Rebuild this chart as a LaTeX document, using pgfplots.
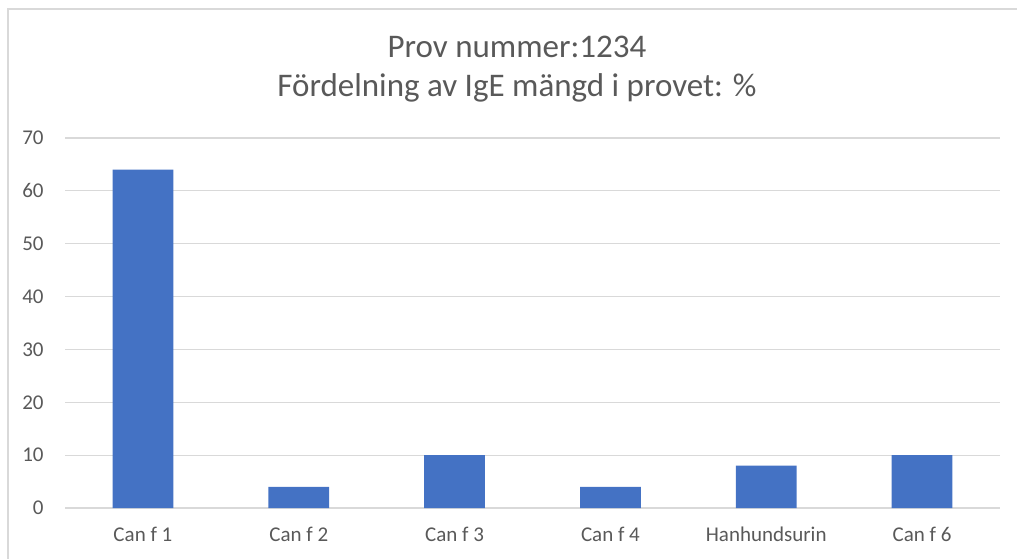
\documentclass[border=0pt]{standalone}
\usepackage{fontspec}
\setmainfont{Carlito}
\usepackage{pgfplots}
\pgfplotsset{compat=1.18}
\definecolor{barblue}{HTML}{4472C4}
\definecolor{gridgray}{HTML}{D9D9D9}
\definecolor{txtgray}{HTML}{595959}
\definecolor{framegray}{HTML}{D9D9D9}
\begin{document}
\begin{tikzpicture}
\path[use as bounding box] (0pt,0pt) rectangle (508.5pt,279pt);
\draw[framegray, line width=1pt] (4pt,-10pt) -- (4pt,274.5pt) -- (520pt,274.5pt);
\node[txtgray, font=\fontsize{16.5pt}{20pt}\selectfont] at (258.5pt,255.5pt) {Prov nummer:1234};
\node[txtgray, font=\fontsize{16.5pt}{20pt}\selectfont] at (258.5pt,235pt) {Fördelning av IgE mängd i provet: \%};
\begin{axis}[
  at={(32.5pt,25pt)}, anchor=south west,
  scale only axis, width=467.5pt, height=185pt,
  xmin=-0.5, xmax=5.5, ymin=0, ymax=70,
  ytick={0,10,...,70},
  xtick={0,1,2,3,4,5},
  xticklabels={Can f 1, Can f 2, Can f 3, Can f 4, Hanhundsurin, Can f 6},
  axis line style={draw=none},
  major tick length=0pt,
  ymajorgrids, grid style={gridgray, line width=0.6pt},
  tick label style={font=\fontsize{10.5pt}{12pt}\selectfont, text=txtgray, inner sep=0pt},
  yticklabel style={anchor=east, xshift=-10.5pt},
  xticklabel style={anchor=north, yshift=-9.5pt},
  /pgf/number format/assume math mode=true,
  ybar, bar width=0.39,
]
\addplot[fill=barblue, draw=none] coordinates {(0,64) (1,4) (2,10) (3,4) (4,8) (5,10)};
\end{axis}
\end{tikzpicture}
\end{document}
